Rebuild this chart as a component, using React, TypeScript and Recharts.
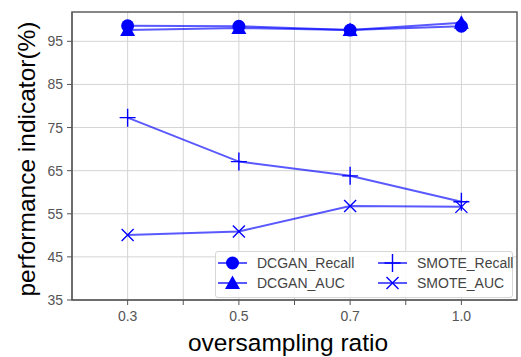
import {
  LineChart,
  Line,
  XAxis,
  YAxis,
  CartesianGrid,
  ReferenceArea,
} from "recharts";

const ratios = ["0.3", "0.5", "0.7", "1.0"];
const dcganRecall = [98.6, 98.5, 97.6, 98.5];
const dcganAuc = [97.6, 98.1, 97.6, 99.3];
const smoteRecall = [77.3, 67.1, 63.8, 57.8];
const smoteAuc = [50.1, 50.9, 56.8, 56.6];

const yTicks = [35, 45, 55, 65, 75, 85, 95];
const xTicks = [0, 0.5, 1, 1.5, 2, 2.5, 3];

const data = ratios.map((r, i) => ({
  idx: i,
  ratio: r,
  dcganRecall: dcganRecall[i],
  dcganAuc: dcganAuc[i],
  smoteRecall: smoteRecall[i],
  smoteAuc: smoteAuc[i],
}));

const BLUE = "#0000ff";
const FONT = "'Liberation Sans', Arial, sans-serif";

const CircleDot = (props: any) => {
  const { cx, cy, index } = props;
  return <circle key={`c${index}`} cx={cx} cy={cy} r={6.5} fill={BLUE} />;
};

const TriangleDot = (props: any) => {
  const { cx, cy, index } = props;
  const s = 7.5;
  return (
    <path
      key={`t${index}`}
      d={`M${cx},${cy - s} L${cx + s},${cy + s * 0.8} L${cx - s},${cy + s * 0.8} Z`}
      fill={BLUE}
    />
  );
};

const PlusDot = (props: any) => {
  const { cx, cy, index } = props;
  return (
    <path
      key={`p${index}`}
      d={`M${cx - 8},${cy} L${cx + 8},${cy} M${cx},${cy - 9} L${cx},${cy + 9}`}
      stroke={BLUE}
      strokeWidth={1.4}
      fill="none"
    />
  );
};

const CrossDot = (props: any) => {
  const { cx, cy, index } = props;
  const s = 6;
  return (
    <path
      key={`x${index}`}
      d={`M${cx - s},${cy - s} L${cx + s},${cy + s} M${cx - s},${cy + s} L${cx + s},${cy - s}`}
      stroke={BLUE}
      strokeWidth={1.4}
      fill="none"
    />
  );
};

const legendItems = [
  { name: "DCGAN_Recall", Dot: CircleDot, col: 0, row: 0 },
  { name: "DCGAN_AUC", Dot: TriangleDot, col: 0, row: 1 },
  { name: "SMOTE_Recall", Dot: PlusDot, col: 1, row: 0 },
  { name: "SMOTE_AUC", Dot: CrossDot, col: 1, row: 1 },
];

// legend drawn as an overlay so it doesn't shrink the plot area
const LegendBox = () => (
  <div
    style={{
      position: "absolute",
      left: 215,
      top: 251,
      width: 298,
      height: 47,
      border: "1px solid #d6d6d6",
      borderRadius: 3,
      background: "rgba(255,255,255,0.85)",
      boxSizing: "border-box",
    }}
  >
    <svg width={298} height={47} style={{ position: "absolute", left: -1, top: -1 }}>
      {legendItems.map(({ name, Dot, col, row }) => {
        const x0 = col === 0 ? 3 : 163;
        const y = row === 0 ? 12 : 32;
        return (
          <g key={name}>
            <line x1={x0} x2={x0 + 29} y1={y} y2={y} stroke={BLUE} strokeOpacity={0.65} strokeWidth={2} />
            <Dot cx={x0 + 14.5} cy={y} index={0} />
            <text x={x0 + 39} y={y + 5} fontSize={14} fill="#444" fontFamily={FONT}>
              {name}
            </text>
          </g>
        );
      })}
    </svg>
  </div>
);

export default function App() {
  return (
    <div style={{ position: "absolute", left: 0, top: 0, width: 521, height: 357, background: "#fff" }}>
      <LineChart
        width={521}
        height={357}
        data={data}
        margin={{ top: 12, right: 4, bottom: 0, left: 28 }}
      >
        <CartesianGrid stroke="#d4d4d4" strokeWidth={1} />
        <XAxis
          dataKey="idx"
          type="number"
          domain={[-0.5, 3.5]}
          ticks={xTicks}
          allowDataOverflow
          height={57}
          tickSize={5}
          tickMargin={6}
          tick={{ fontSize: 14, fill: "#555", fontFamily: FONT }}
          tickFormatter={(v: number) => (Number.isInteger(v) ? ratios[v] : "")}
          stroke="#555"
          label={{
            content: () => (
              <text x={288} y={351} textAnchor="middle" fontSize={24.5} fill="#000" fontFamily={FONT}>
                oversampling ratio
              </text>
            ),
          }}
        />
        <YAxis
          type="number"
          domain={[35, 101.8]}
          ticks={yTicks}
          allowDataOverflow
          width={44}
          tickSize={5}
          tickMargin={4}
          tick={{ fontSize: 14, fill: "#555", fontFamily: FONT }}
          stroke="#555"
          label={{
            content: () => (
              <text
                x={35}
                y={159}
                transform="rotate(-90 35 159)"
                textAnchor="middle"
                fontSize={24.5}
                fill="#000"
                fontFamily={FONT}
              >
                performance indicator(%)
              </text>
            ),
          }}
        />
        <ReferenceArea
          x1={-0.5}
          x2={3.5}
          y1={35}
          y2={101.8}
          fill="none"
          stroke="#666"
          strokeWidth={1.5}
        />
        <Line
          dataKey="dcganRecall"
          stroke={BLUE}
          strokeOpacity={0.65}
          strokeWidth={2}
          dot={CircleDot}
          isAnimationActive={false}
        />
        <Line
          dataKey="dcganAuc"
          stroke={BLUE}
          strokeOpacity={0.65}
          strokeWidth={2}
          dot={TriangleDot}
          isAnimationActive={false}
        />
        <Line
          dataKey="smoteRecall"
          stroke={BLUE}
          strokeOpacity={0.65}
          strokeWidth={2}
          dot={PlusDot}
          isAnimationActive={false}
        />
        <Line
          dataKey="smoteAuc"
          stroke={BLUE}
          strokeOpacity={0.65}
          strokeWidth={2}
          dot={CrossDot}
          isAnimationActive={false}
        />
      </LineChart>
      <LegendBox />
    </div>
  );
}
